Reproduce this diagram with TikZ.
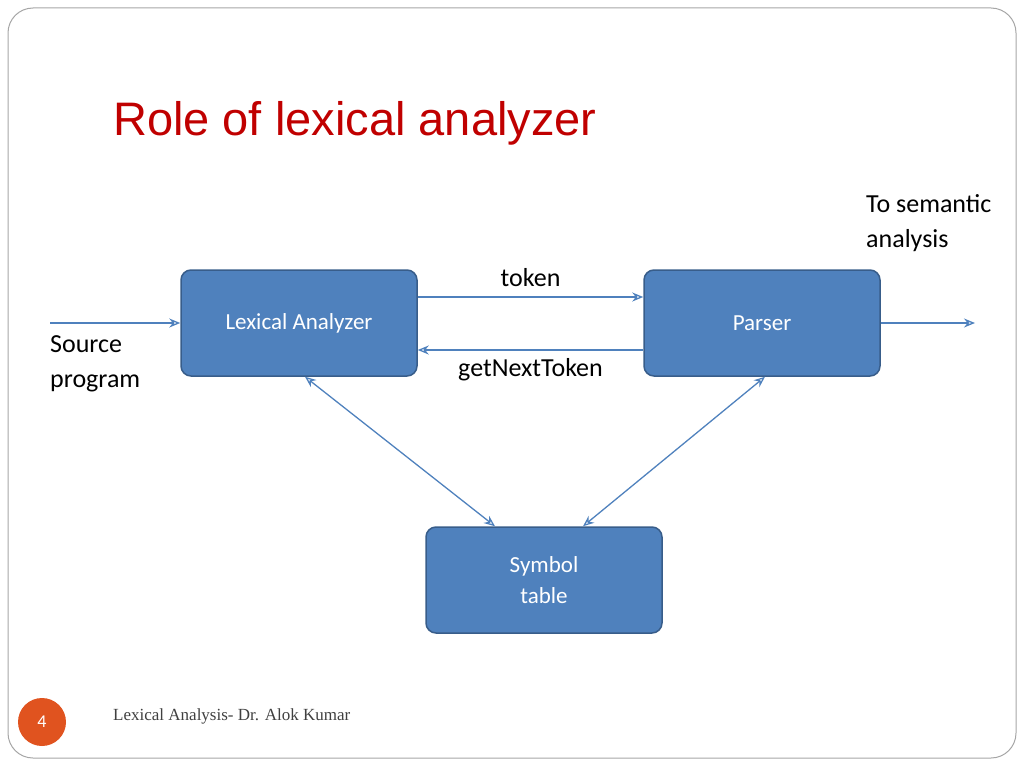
\documentclass[tikz,border=0pt]{standalone}
\usepackage{fontspec}
\setmainfont{Carlito}
\newfontfamily\titlefont{Liberation Sans}
\newfontfamily\footfont{Liberation Serif}
\usetikzlibrary{positioning,arrows.meta}
\definecolor{boxblue}{HTML}{4F81BD}
\definecolor{boxedge}{HTML}{385D8A}
\definecolor{titlered}{HTML}{C00000}
\definecolor{pageorange}{HTML}{E0531F}
\tikzset{
	block/.style={draw=boxedge, line width=1.5pt, fill=boxblue, rounded corners=10pt, minimum width=236pt, minimum height=106pt, text=white, font=\fontsize{23}{31}\selectfont, align=center},
	flow/.style={draw=boxblue, line width=1.3pt, -{Stealth[length=11pt,width=9pt,open]}},
	both/.style={draw=boxblue, line width=1.3pt, {Stealth[length=11pt,width=9pt,open]}-{Stealth[length=11pt,width=9pt,open]}},
	lbl/.style={font=\fontsize{26}{35}\selectfont, align=left, inner sep=0pt}
}
\begin{document}
\begin{tikzpicture}[x=1pt,y=-1pt]
	\useasboundingbox (0,0) rectangle (1024,768);
	%frame
	\draw[gray!70, line width=1pt, rounded corners=25pt] (8,8) rectangle (1016,758);
	\node[anchor=base west, inner sep=0pt, text=titlered, font=\titlefont\fontsize{47}{52}\selectfont] (title) at (113,135) {Role of lexical analyzer};
	%boxes
	\node[block] (lex) at (299,323) {Lexical Analyzer};
	\node[block] (parser) at (762,323) {Parser};
	\node[block] (sym) at (544,580) {Symbol\\table};
	%connectors
	\coordinate (src) at (50,323);
	\coordinate (out) at (975,323);
	\draw[flow] (src) -- (lex.west);
	\draw[flow] (parser.east) -- (out);
	\draw[flow] ([yshift=26pt]lex.east) -- node[lbl, above=10pt] (tok) {token} ([yshift=26pt]parser.west);
	\draw[flow] ([yshift=-27pt]parser.west) -- node[lbl, below=8pt] (gnt) {getNextToken} ([yshift=-27pt]lex.east);
	\draw[both] ([xshift=6pt]lex.south) -- ([xshift=-49pt]sym.north);
	\draw[both] ([xshift=3pt]parser.south) -- ([xshift=39pt]sym.north);
	%labels
	\node[lbl, anchor=north west] (srclbl) at (50,335) {Source\\program};
	\node[lbl, anchor=north west] (outlbl) at (866,194) {To semantic\\analysis};
	%footer
	\node[circle, fill=pageorange, minimum size=48pt, text=white, font=\fontsize{18}{20}\selectfont] (page) at (42,722) {4};
	\node[anchor=west, inner sep=0pt, text=black!75, font=\footfont\fontsize{17}{19}\selectfont] (foot) at (113,716) {Lexical Analysis- Dr. Alok Kumar};
\end{tikzpicture}
\end{document}
